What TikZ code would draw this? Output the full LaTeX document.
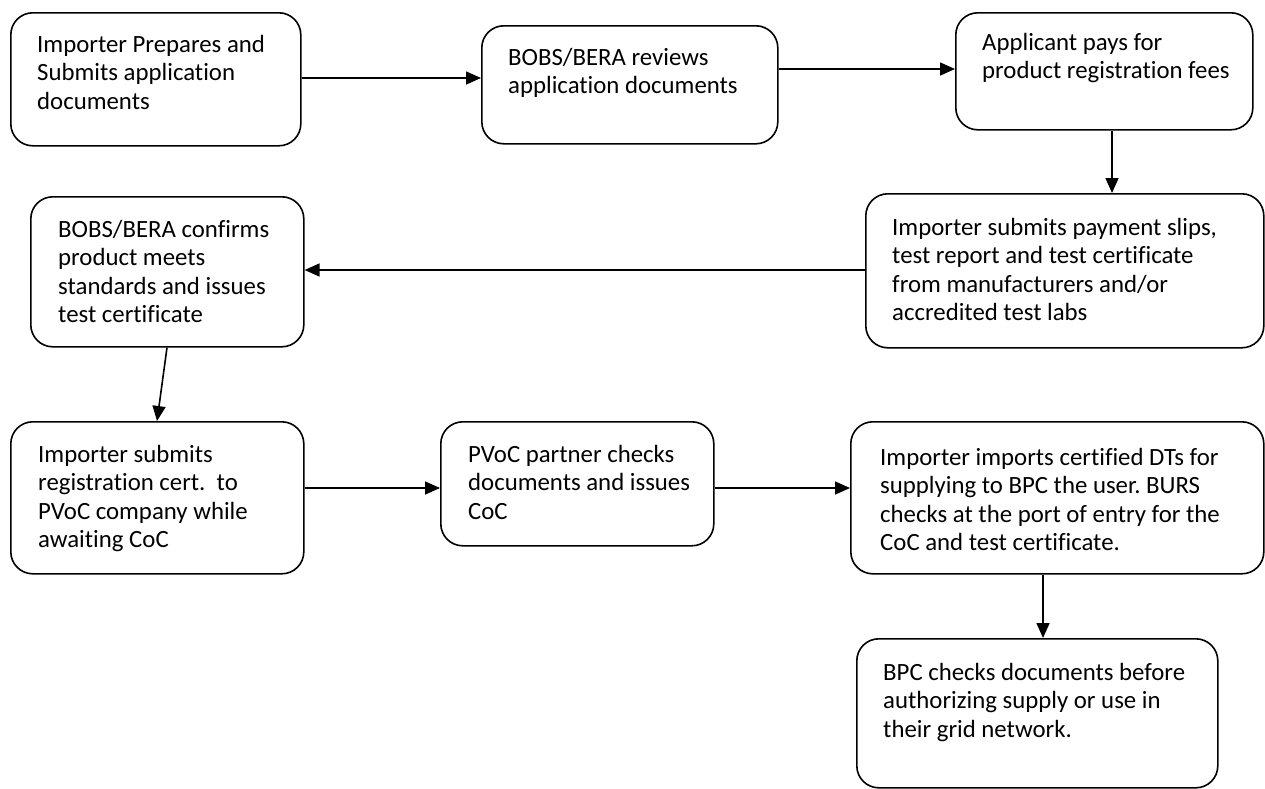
\documentclass[tikz,border=0pt]{standalone}
\usepackage{fontspec}
\setmainfont{Carlito}[Ligatures={NoCommon,NoContextual}]
\usetikzlibrary{arrows.meta}
\tikzset{
  box/.style={draw=black, line width=1.6pt, rounded corners=22pt, inner sep=0pt, anchor=north west, fill=white},
  txt/.style={anchor=north west, inner sep=0pt, align=left, font=\fontsize{24.8}{28.5}\selectfont},
  arr/.style={line width=1.6pt, -{Triangle[length=15pt,width=13pt]}}
}
\newcommand\fl{\rule{0pt}{20pt}}
\frenchspacing
\begin{document}
\begin{tikzpicture}[x=1pt,y=-1pt]
\useasboundingbox[fill=white] (0,0) rectangle (1265,788);
% boxes
\node[box, minimum width=290pt, minimum height=133pt] (b1) at (10,12) {};
\node[box, minimum width=296pt, minimum height=118pt] (b2) at (481,25) {};
\node[box, minimum width=297pt, minimum height=117pt] (b3) at (955,12) {};
\node[box, minimum width=398pt, minimum height=154pt] (b4) at (865,193) {};
\node[box, minimum width=273pt, minimum height=150pt] (b5) at (30,196) {};
\node[box, minimum width=293pt, minimum height=152pt] (b6) at (10,421) {};
\node[box, minimum width=273pt, minimum height=124pt] (b7) at (440,421) {};
\node[box, minimum width=413pt, minimum height=152pt] (b8) at (850,421) {};
\node[box, minimum width=361pt, minimum height=149pt] (b9) at (856,638) {};
% texts
\node[txt] (t1) at (37,32) {\fl Importer Prepares and\\Submits application\\documents};
\node[txt] (t2) at (508,45) {\fl BOBS/BERA reviews\\application documents};
\node[txt] (t3) at (982,30) {\fl Applicant pays for\\product registration fees};
\node[txt] (t4) at (892,215) {\fl Importer submits payment slips,\\test report and test certificate\\from manufacturers and/or\\accredited test labs};
\node[txt] (t5) at (58,217) {\fl BOBS/BERA confirms\\product meets\\standards and issues\\test certificate};
\node[txt] (t6) at (38,442) {\fl Importer submits\\registration cert.~ to\\PVoC company while\\awaiting CoC};
\node[txt] (t7) at (468,442) {\fl PVoC partner checks\\documents and issues\\CoC};
\node[txt] (t8) at (880,445) {\fl Importer imports certified DTs for\\supplying to BPC the user. BURS\\checks at the port of entry for the\\CoC and test certificate.};
\node[txt] (t9) at (883,660) {\fl BPC checks documents before\\authorizing supply or use in\\their grid network.};
% connectors
\draw[arr] (b1.east |- 0,78) -- (b2.west |- 0,78);
\draw[arr] (b2.east |- 0,69) -- (b3.west |- 0,69);
\draw[arr] (b3.south -| 1112,0) -- (b4.north -| 1112,0);
\draw[arr] (b4.west |- 0,270) -- (b5.east |- 0,270);
\draw[arr] (b5.south -| 167,0) -- (b6.north -| 157,0);
\draw[arr] (b6.east |- 0,488) -- (b7.west |- 0,488);
\draw[arr] (b7.east |- 0,488) -- (b8.west |- 0,488);
\draw[arr] (b8.south -| 1043,0) -- (b9.north -| 1043,0);
\end{tikzpicture}
\end{document}
